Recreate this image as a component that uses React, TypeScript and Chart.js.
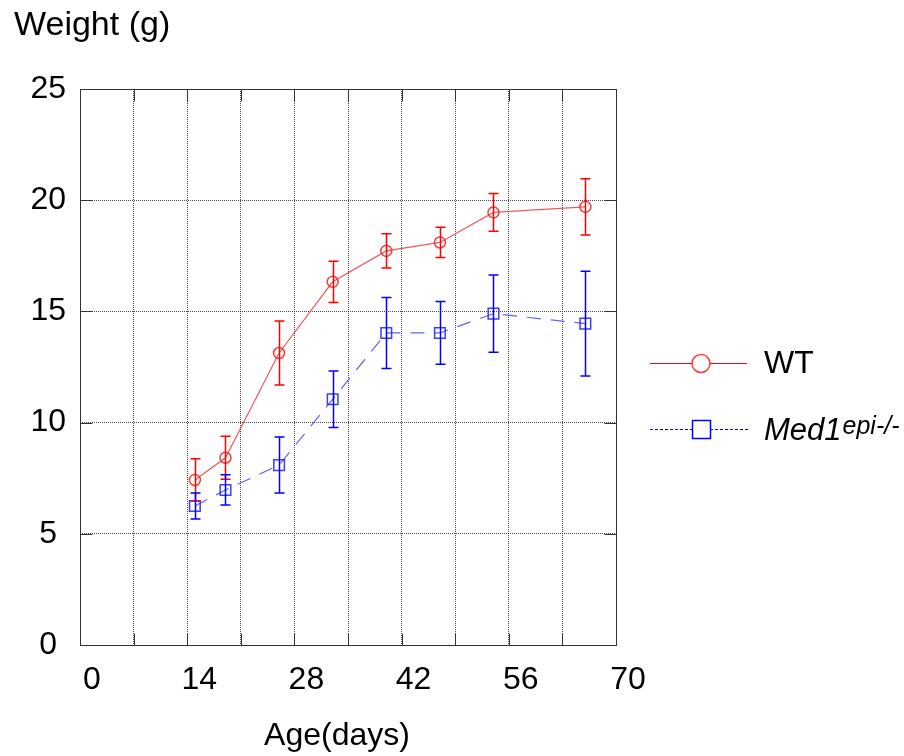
import React, { useEffect, useRef } from 'react';
import { Chart, registerables } from 'chart.js';

Chart.register(...registerables);

// ---- data ----
const ageDays = [15, 19, 26, 33, 40, 47, 54, 66];
const wtWeight = [7.42, 8.42, 13.13, 16.33, 17.72, 18.1, 19.45, 19.7];
const wtSD = [0.95, 0.97, 1.44, 0.93, 0.77, 0.68, 0.85, 1.26];
const med1Weight = [6.25, 6.97, 8.09, 11.05, 14.03, 14.03, 14.9, 14.45];
const med1SD = [0.58, 0.68, 1.26, 1.27, 1.6, 1.41, 1.74, 2.35];

const xTicks = [0, 14, 28, 42, 56, 70];
const xGridStep = 7;
const yTicks = [0, 5, 10, 15, 20, 25];

const yTitle = 'Weight (g)';
const xTitle = 'Age(days)';
const wtLabel = 'WT';
const med1Label = 'Med1';
const med1Sup = 'epi-/-';

const FONT = '"Liberation Sans", Arial, Helvetica, sans-serif';
const RED = '#ff0000';
const RED_LINE = 'rgba(238,60,60,0.85)';
const BLUE = '#0000ff';
const BLUE_LINE = 'rgba(70,70,240,0.85)';

const errorBarPlugin = {
  id: 'errorBars',
  afterDatasetsDraw(chart: any) {
    const { ctx, scales } = chart;
    const xs = scales.x;
    const ys = scales.y;
    chart.data.datasets.forEach((ds: any) => {
      const sd: number[] = ds.sd;
      if (!sd) return;
      ctx.save();
      ctx.strokeStyle = ds.errColor;
      ctx.lineWidth = 1.5;
      ds.data.forEach((p: any, i: number) => {
        const px = Math.round(xs.getPixelForValue(p.x)) + 0.5;
        const top = ys.getPixelForValue(p.y + sd[i]);
        const bot = ys.getPixelForValue(p.y - sd[i]);
        ctx.beginPath();
        ctx.moveTo(px, top);
        ctx.lineTo(px, bot);
        ctx.moveTo(px - 5, top);
        ctx.lineTo(px + 5, top);
        ctx.moveTo(px - 5, bot);
        ctx.lineTo(px + 5, bot);
        ctx.stroke();
      });
      ctx.restore();
    });
  },
};

const framePlugin = {
  id: 'frame',
  beforeDatasetsDraw(chart: any) {
    const { ctx, chartArea: a, scales } = chart;
    const xs = scales.x;
    const ys = scales.y;
    ctx.save();
    ctx.strokeStyle = '#333';
    ctx.lineWidth = 1;
    ctx.setLineDash([]);
    const L = Math.round(a.left) + 0.5;
    const R = Math.round(a.right) + 0.5;
    const T = Math.round(a.top) + 0.5;
    const B = Math.round(a.bottom) + 0.5;
    ctx.strokeRect(L, T, R - L, B - T);
    ctx.beginPath();
    const tl = 12;
    for (let v = xGridStep; v < 70; v += xGridStep) {
      const px = Math.round(xs.getPixelForValue(v)) + 0.5;
      ctx.moveTo(px, B);
      ctx.lineTo(px, B - tl);
      ctx.moveTo(px, T);
      ctx.lineTo(px, T + tl);
    }
    yTicks.slice(1, -1).forEach((v) => {
      const py = Math.round(ys.getPixelForValue(v)) + 0.5;
      ctx.moveTo(L, py);
      ctx.lineTo(L + tl, py);
      ctx.moveTo(R, py);
      ctx.lineTo(R - tl, py);
    });
    ctx.stroke();
    ctx.restore();
  },
};

const textPlugin = {
  id: 'texts',
  afterDraw(chart: any) {
    const { ctx } = chart;
    ctx.save();
    ctx.fillStyle = '#000';
    ctx.textBaseline = 'alphabetic';
    ctx.font = `34px ${FONT}`;
    ctx.textAlign = 'left';
    ctx.fillText(yTitle, 14, 35);
    ctx.font = `32px ${FONT}`;
    ctx.textAlign = 'center';
    ctx.fillText(xTitle, 337, 745);

    // legend
    ctx.textAlign = 'left';
    // WT row
    ctx.strokeStyle = RED;
    ctx.lineWidth = 1.2;
    ctx.beginPath();
    ctx.moveTo(650, 363.5);
    ctx.lineTo(747, 363.5);
    ctx.stroke();
    ctx.beginPath();
    ctx.arc(701, 363.5, 9, 0, Math.PI * 2);
    ctx.fillStyle = '#fff';
    ctx.fill();
    ctx.strokeStyle = 'rgba(255,40,40,0.9)';
    ctx.lineWidth = 1.5;
    ctx.stroke();
    ctx.fillStyle = '#000';
    ctx.font = `32px ${FONT}`;
    ctx.fillText(wtLabel, 764, 373);

    // Med1 row
    ctx.strokeStyle = BLUE;
    ctx.lineWidth = 1;
    ctx.setLineDash([3, 2]);
    ctx.beginPath();
    ctx.moveTo(650, 429.5);
    ctx.lineTo(749, 429.5);
    ctx.stroke();
    ctx.setLineDash([]);
    ctx.fillStyle = '#fff';
    ctx.fillRect(692, 420, 18, 18);
    ctx.strokeStyle = BLUE;
    ctx.lineWidth = 1.5;
    ctx.strokeRect(692.5, 420.5, 18, 18);
    ctx.fillStyle = '#000';
    ctx.font = `italic 31px ${FONT}`;
    ctx.fillText(med1Label, 764, 440);
    const w = ctx.measureText(med1Label).width;
    ctx.font = `italic 25px ${FONT}`;
    ctx.fillText(med1Sup, 764 + w + 1, 434);
    ctx.restore();
  },
};

export default function App() {
  const ref = useRef<HTMLCanvasElement | null>(null);

  useEffect(() => {
    if (!ref.current) return;
    const chart = new Chart(ref.current, {
      type: 'line',
      data: {
        datasets: [
          {
            label: wtLabel,
            data: ageDays.map((d, i) => ({ x: d, y: wtWeight[i] })),
            borderColor: RED_LINE,
            borderWidth: 1.2,
            pointStyle: 'circle',
            pointRadius: 5.5,
            pointBorderWidth: 1.5,
            pointBorderColor: 'rgba(245,40,40,0.9)',
            pointBackgroundColor: 'rgba(0,0,0,0)',
            fill: false,
            tension: 0,
            sd: wtSD,
            errColor: RED,
          } as any,
          {
            label: med1Label,
            data: ageDays.map((d, i) => ({ x: d, y: med1Weight[i] })),
            borderColor: BLUE_LINE,
            borderWidth: 1.2,
            borderDash: [14, 10],
            pointStyle: 'rect',
            pointRadius: 7.5,
            pointBorderWidth: 1.5,
            pointBorderColor: 'rgba(40,40,245,0.9)',
            pointBackgroundColor: 'rgba(0,0,0,0)',
            fill: false,
            tension: 0,
            sd: med1SD,
            errColor: BLUE,
          } as any,
        ],
      },
      options: {
        animation: false,
        responsive: false,
        maintainAspectRatio: false,
        layout: { padding: { left: 0, right: 288, top: 89, bottom: 0 } },
        plugins: {
          legend: { display: false },
          tooltip: { enabled: false },
          title: { display: false },
        },
        scales: {
          x: {
            type: 'linear',
            min: 0,
            max: 70,
            afterFit: (s: any) => {
              s.height = 111;
            },
            afterBuildTicks: (s: any) => {
              const t = [];
              for (let v = 0; v <= 70; v += xGridStep) t.push({ value: v });
              s.ticks = t;
            },
            ticks: {
              autoSkip: false,
              maxRotation: 0,
              padding: 16,
              labelOffset: 12,
              color: '#000',
              font: { family: FONT, size: 32 },
              callback: (v: any) => (xTicks.includes(Number(v)) ? String(v) : ''),
            },
            grid: {
              color: 'rgba(40,40,40,0.85)',
              lineWidth: 1,
              drawTicks: false,
            },
            border: { display: false, dash: [1, 1] },
          },
          y: {
            type: 'linear',
            min: 0,
            max: 25,
            afterFit: (s: any) => {
              s.width = 80;
            },
            afterBuildTicks: (s: any) => {
              s.ticks = yTicks.map((v) => ({ value: v }));
            },
            ticks: {
              padding: 14,
              crossAlign: 'center',
              color: '#000',
              font: { family: FONT, size: 32 },
            },
            grid: {
              color: 'rgba(40,40,40,0.85)',
              lineWidth: 1,
              drawTicks: false,
            },
            border: { display: false, dash: [1, 1] },
          },
        },
      } as any,
      plugins: [framePlugin, errorBarPlugin, textPlugin],
    });
    return () => chart.destroy();
  }, []);

  return (
    <div style={{ position: 'absolute', left: 0, top: 0, width: 904, height: 756, background: '#fff' }}>
      <canvas ref={ref} width={904} height={756} style={{ width: 904, height: 756, display: 'block' }} />
    </div>
  );
}
